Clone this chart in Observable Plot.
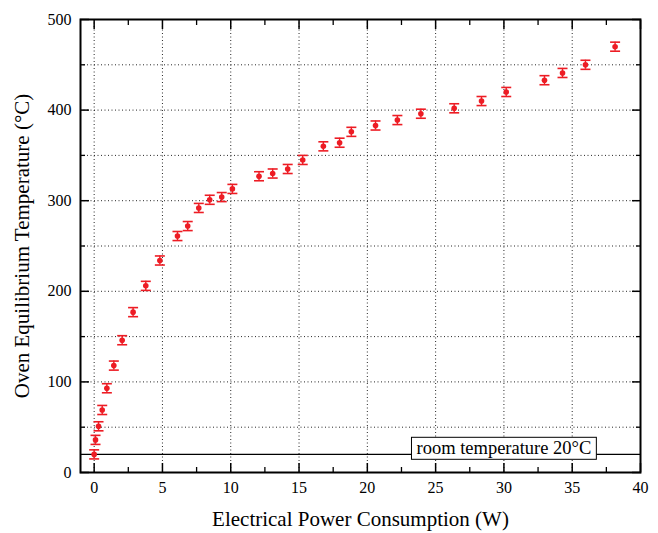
<!DOCTYPE html>
<html>
<head>
<meta charset="utf-8">
<script src="https://cdn.jsdelivr.net/npm/d3@7"></script>
<script src="https://cdn.jsdelivr.net/npm/@observablehq/plot@0.6"></script>
<style>
  html, body { margin: 0; padding: 0; background: #fff; }
  #chart svg { display: block; }
</style>
</head>
<body>
<div id="chart"></div>
<script>
const power = [0, 0.1, 0.32, 0.59, 0.93, 1.44, 2.05, 2.85, 3.78, 4.81, 6.1, 6.85, 7.66, 8.46, 9.34, 10.12,
  12.07, 13.07, 14.17, 15.27, 16.78, 17.97, 18.83, 20.6, 22.2, 23.92, 26.36, 28.36, 30.17, 32.97, 34.29, 35.97, 38.14];
const temperature = [20, 36, 51, 69, 93, 118, 146, 177, 206, 234, 261, 272, 292, 301, 304, 313,
  327, 330, 335, 345, 360, 364, 376, 383, 389, 396, 402, 410, 420, 433, 441, 450, 470];
const tempError = [5, 5, 5, 5, 5, 5, 5, 5, 5, 5, 5, 5, 5, 5, 5, 5,
  5, 5, 5, 5, 5, 5, 5, 5, 5, 5, 5, 5, 5, 5, 5, 5, 5];

const xTicks = [0, 5, 10, 15, 20, 25, 30, 35, 40];
const xMinorTicks = [2.5, 7.5, 12.5, 17.5, 22.5, 27.5, 32.5, 37.5];
const xGrid = [0, 5, 10, 15, 20, 25, 30, 35];
const yTicks = [0, 100, 200, 300, 400, 500];
const yMinorTicks = [50, 150, 250, 350, 450];
const yGrid = [50, 100, 150, 200, 250, 300, 350, 400, 450];

const roomTemp = [20];
const roomLabel = [{x: 30, y: 20, text: "room temperature 20°C"}];

const xTitle = "Electrical Power Consumption (W)";
const yTitle = "Oven Equilibrium Temperature (°C)";

const data = power.map((p, i) => ({P: p, T: temperature[i], e: tempError[i]}));

const RED = "#ed1c24";
const capSymbol = {draw(ctx, size) { ctx.moveTo(-5, 0); ctx.lineTo(5, 0); }};

const chart = Plot.plot({
  width: 658,
  height: 533,
  marginLeft: 80,
  marginRight: 18,
  marginTop: 19,
  marginBottom: 61,
  style: {fontFamily: "'Liberation Serif', 'Times New Roman', serif", background: "#fff", color: "#000"},
  x: {domain: [-1, 40]},
  y: {domain: [0, 500]},
  marks: [
    Plot.gridX(xGrid, {stroke: "#000", strokeOpacity: 0.85, strokeDasharray: "1,2.5"}),
    Plot.gridY(yGrid, {stroke: "#000", strokeOpacity: 0.85, strokeDasharray: "1,2.5"}),
    Plot.ruleY(roomTemp, {stroke: "#000", strokeWidth: 1.2}),
    // error bars
    Plot.ruleX(data, {x: "P", y1: d => d.T - d.e, y2: d => d.T + d.e, stroke: RED, strokeWidth: 1.4}),
    Plot.dot(data, {x: "P", y: d => d.T + d.e, symbol: capSymbol, stroke: RED, strokeWidth: 1.6, r: 5}),
    Plot.dot(data, {x: "P", y: d => d.T - d.e, symbol: capSymbol, stroke: RED, strokeWidth: 1.6, r: 5}),
    Plot.dot(data, {x: "P", y: "T", fill: RED, r: 2.8, stroke: null}),
    // room temperature annotation
    Plot.text(roomLabel, {x: "x", y: "y", text: "text", dy: -6, fontSize: 18.5, fill: "#000"}),
    // ticks (inward, mirrored)
    Plot.axisX({ticks: xTicks, tickSize: 9, dy: -9, text: null, label: null, strokeWidth: 1.5}),
    Plot.axisX({ticks: xMinorTicks, tickSize: 5, dy: -5, text: null, label: null, strokeWidth: 1.3}),
    Plot.axisX({anchor: "top", ticks: xTicks, tickSize: 9, dy: 9, text: null, label: null, strokeWidth: 1.5}),
    Plot.axisX({anchor: "top", ticks: xMinorTicks, tickSize: 5, dy: 5, text: null, label: null, strokeWidth: 1.3}),
    Plot.axisY({ticks: yTicks, tickSize: 9, dx: 9, text: null, label: null, strokeWidth: 1.5}),
    Plot.axisY({ticks: yMinorTicks, tickSize: 5, dx: 5, text: null, label: null, strokeWidth: 1.3}),
    Plot.axisY({anchor: "right", ticks: yTicks, tickSize: 9, dx: -9, text: null, label: null, strokeWidth: 1.5}),
    Plot.axisY({anchor: "right", ticks: yMinorTicks, tickSize: 5, dx: -5, text: null, label: null, strokeWidth: 1.3}),
    // tick labels
    Plot.axisX({ticks: xTicks, tickSize: 0, tickPadding: 9, fontSize: 16, label: null, tickFormat: d => String(d)}),
    Plot.axisY({ticks: yTicks, tickSize: 0, tickPadding: 9, fontSize: 16, label: null, tickFormat: d => String(d)}),
    // titles
    Plot.text([xTitle], {frameAnchor: "bottom", dy: 53, fontSize: 21, fill: "#000", textAnchor: "middle"}),
    Plot.text([yTitle], {frameAnchor: "left", dx: -58, rotate: -90, fontSize: 21, fill: "#000", textAnchor: "middle"}),
    Plot.frame({stroke: "#000", strokeWidth: 2})
  ]
});

document.getElementById("chart").appendChild(chart);

// draw a box behind the room temperature label
chart.querySelectorAll("text").forEach(t => {
  if (t.textContent === roomLabel[0].text) {
    const b = t.getBBox();
    const rect = document.createElementNS("http://www.w3.org/2000/svg", "rect");
    const padX = 5, padY = 1;
    rect.setAttribute("x", b.x - padX);
    rect.setAttribute("y", b.y - padY);
    rect.setAttribute("width", b.width + 2 * padX);
    rect.setAttribute("height", b.height + 2 * padY);
    rect.setAttribute("fill", "#fff");
    rect.setAttribute("stroke", "#000");
    rect.setAttribute("stroke-width", "1");
    if (t.getAttribute("transform")) rect.setAttribute("transform", t.getAttribute("transform"));
    t.parentNode.insertBefore(rect, t);
  }
});
</script>
</body>
</html>
